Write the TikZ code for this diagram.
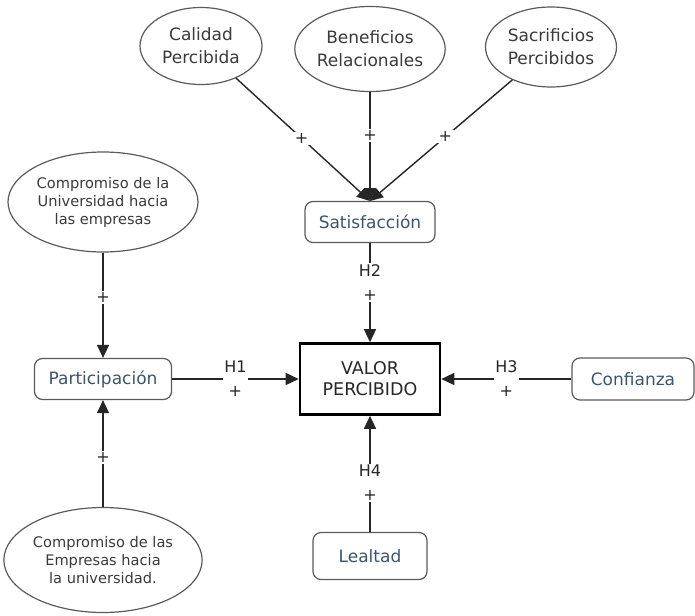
\documentclass[tikz,border=0pt]{standalone}
\usepackage{fontspec}
\setmainfont{DejaVu Sans}
\usetikzlibrary{shapes.geometric,arrows.meta}
\definecolor{boxtext}{HTML}{3A566E}
\definecolor{elltext}{HTML}{3A3A3A}
\definecolor{bordergray}{HTML}{5A5A5A}
\begin{document}
\begin{tikzpicture}[x=1pt,y=-1pt,
  ell/.style={ellipse,draw=bordergray,line width=1.2pt,inner sep=0pt,align=center,text=elltext},
  bigell/.style={ell,font=\fontsize{17}{23}\selectfont},
  smallell/.style={ell,font=\fontsize{14.6}{18}\selectfont},
  rbox/.style={rectangle,rounded corners=8pt,draw=bordergray,line width=1.2pt,text=boxtext,font=\fontsize{17}{22}\selectfont,inner sep=0pt},
  mainbox/.style={rectangle,draw=black,line width=2.6pt,align=center,text=black!85,font=\fontsize{17.5}{21}\selectfont,inner sep=0pt,minimum width=140pt,minimum height=71pt},
  conn/.style={line width=1.4pt,draw=black!85},
  arr/.style={conn,-{Triangle[length=13pt,width=12pt]}},
  lbl/.style={fill=white,inner sep=1.5pt,align=center,text=black!85,font=\fontsize{16}{24}\selectfont},
  plus/.style={fill=white,inner sep=1.5pt,text=black!85,font=\fontsize{16}{18}\selectfont}
]
\useasboundingbox (0,0) rectangle (695,615);

% ellipses
\node[bigell,minimum width=122pt,minimum height=77pt] (cal) at (201,46) {Calidad\\Percibida};
\node[bigell,minimum width=150pt,minimum height=85pt] (ben) at (370,49) {Beneficios\\Relacionales};
\node[bigell,minimum width=131pt,minimum height=80pt] (sac) at (551,47) {Sacrificios\\Percibidos};
\node[smallell,minimum width=190pt,minimum height=100pt] (cu) at (103,202) {Compromiso de la\\Universidad hacia\\las empresas};
\node[smallell,minimum width=192pt,minimum height=105pt] (ce) at (103,560) {Compromiso de las\\Empresas hacia\\la universidad.};

% boxes
\node[rbox,minimum width=130pt,minimum height=41pt] (sat) at (370,222) {Satisfacción};
\node[rbox,minimum width=137pt,minimum height=41pt] (par) at (103,379) {Participación};
\node[rbox,minimum width=122pt,minimum height=42pt] (con) at (633,379) {Confianza};
\node[rbox,minimum width=114pt,minimum height=47pt] (lea) at (370,556) {Lealtad};
\node[mainbox] (val) at (370,379) {VALOR\\PERCIBIDO};

\coordinate (sattop) at (370,201);

% top three converging arrows
\draw[arr] (cal) -- node[plus,pos=0.49] {+} (sattop);
\draw[arr] (ben) -- node[plus,pos=0.4] {+} (sattop);
\draw[arr] (sac) -- node[plus,pos=0.47] {+} (sattop);

% left commitments to participation
\draw[arr] (cu) -- node[plus,pos=0.43] {+} (par);
\draw[arr] (ce) -- node[plus,pos=0.46] {+} (par);

% hypotheses
\draw[arr] (par) -- node[lbl,pos=0.5] {H1\\+} (val);
\draw[arr] (sat) -- node[lbl,pos=0.4] {H2\\+} (val);
\draw[arr] (con) -- node[lbl,pos=0.5] {H3\\+} (val);
\draw[arr] (lea) -- node[lbl,pos=0.42] {H4\\+} (val);
\end{tikzpicture}
\end{document}
